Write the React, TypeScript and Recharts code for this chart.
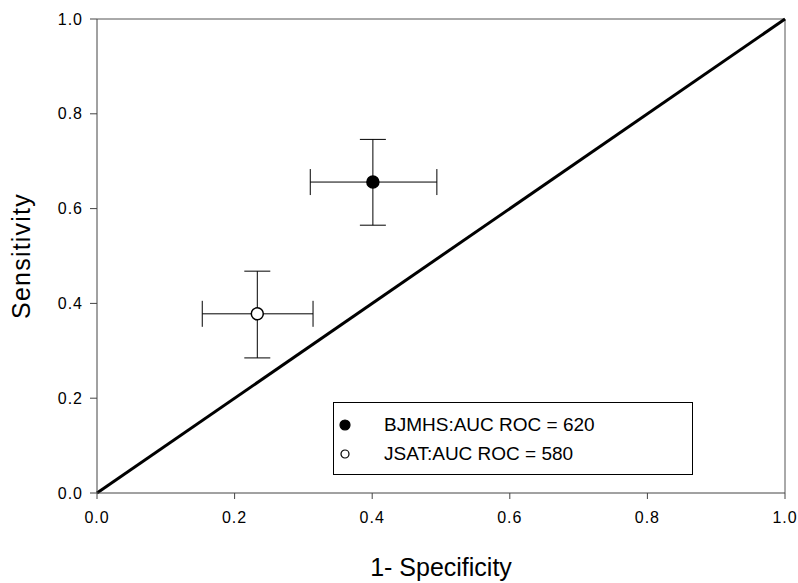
import React from 'react';
import { ScatterChart, Scatter, XAxis, YAxis, ErrorBar, ReferenceLine, Label } from 'recharts';

const seriesNames = ['BJMHS:AUC ROC = 620', 'JSAT:AUC ROC = 580'];
const seriesFill = ['#000000', '#ffffff'];
const fpr = [0.401, 0.233];
const sensitivity = [0.656, 0.378];
const fprErr = [[0.091, 0.093], [0.08, 0.081]];
const sensErr = [[0.091, 0.09], [0.093, 0.09]];
const axisTicks = [0, 0.2, 0.4, 0.6, 0.8, 1.0];
const diagonal = [{ x: 0, y: 0 }, { x: 1, y: 1 }];

const FONT = '"Liberation Sans", Arial, sans-serif';

const makeShape = (fill: string) => (props: any) => (
  <circle cx={props.cx} cy={props.cy} r={6} fill={fill} stroke="#000" strokeWidth={1.5} />
);

export default function App() {
  const series = seriesNames.map((name, i) => ({
    name,
    fill: seriesFill[i],
    data: [{ x: fpr[i], y: sensitivity[i], ex: fprErr[i], ey: sensErr[i] }],
  }));
  const tickStyle = { fill: '#000', fontSize: 16, fontFamily: FONT, letterSpacing: 1 } as any;
  return (
    <div style={{ position: 'absolute', left: 0, top: 0, width: 798, height: 583, background: '#fff', fontFamily: FONT }}>
      <ScatterChart width={798} height={583} margin={{ top: 19, right: 13, bottom: 0, left: 0 }}>
        <XAxis
          type="number"
          dataKey="x"
          domain={[0, 1]}
          ticks={axisTicks}
          tickFormatter={(v: number) => v.toFixed(1)}
          height={90}
          tickSize={6}
          tickMargin={13}
          stroke="#444"
          tick={tickStyle}
          allowDataOverflow
        >
          <Label value="1- Specificity" position="insideBottom" offset={7} style={{ fontSize: 25, fontFamily: FONT, fill: '#000' }} />
        </XAxis>
        <YAxis
          type="number"
          dataKey="y"
          domain={[0, 1]}
          ticks={axisTicks}
          tickFormatter={(v: number) => v.toFixed(1)}
          width={97}
          tickSize={7}
          tickMargin={7}
          stroke="#444"
          tick={tickStyle}
          allowDataOverflow
        >
          <Label value="Sensitivity" angle={-90} position="insideLeft" offset={21} style={{ fontSize: 25, fontFamily: FONT, fill: '#000', textAnchor: 'middle', letterSpacing: 1.2 }} />
        </YAxis>
        <ReferenceLine y={1} stroke="#555" strokeWidth={1} />
        <ReferenceLine x={1} stroke="#555" strokeWidth={1} />
        <ReferenceLine segment={diagonal} stroke="#000" strokeWidth={3} />
        {series.map((s) => (
          <Scatter key={s.name} name={s.name} data={s.data} isAnimationActive={false} shape={makeShape(s.fill)}>
            <ErrorBar dataKey="ex" direction="x" width={13} stroke="#000" strokeWidth={1} />
            <ErrorBar dataKey="ey" direction="y" width={13} stroke="#000" strokeWidth={1} />
          </Scatter>
        ))}
      </ScatterChart>
      <div
        style={{
          position: 'absolute',
          left: 333,
          top: 402,
          width: 358,
          height: 71,
          border: '1px solid #000',
          background: '#fff',
          fontFamily: FONT,
          fontSize: 19,
          color: '#000',
        }}
      >
        {series.map((s, i) => (
          <div key={s.name} style={{ position: 'absolute', left: 0, top: 12 + i * 29, height: 20, display: 'flex', alignItems: 'center' }}>
            <svg width={50} height={20} style={{ display: 'block' }}>
              <circle cx={11} cy={10} r={i === 0 ? 5 : 4} fill={s.fill} stroke="#000" strokeWidth={1.2} />
            </svg>
            <span style={{ whiteSpace: 'nowrap', lineHeight: '20px' }}>{s.name}</span>
          </div>
        ))}
      </div>
    </div>
  );
}
